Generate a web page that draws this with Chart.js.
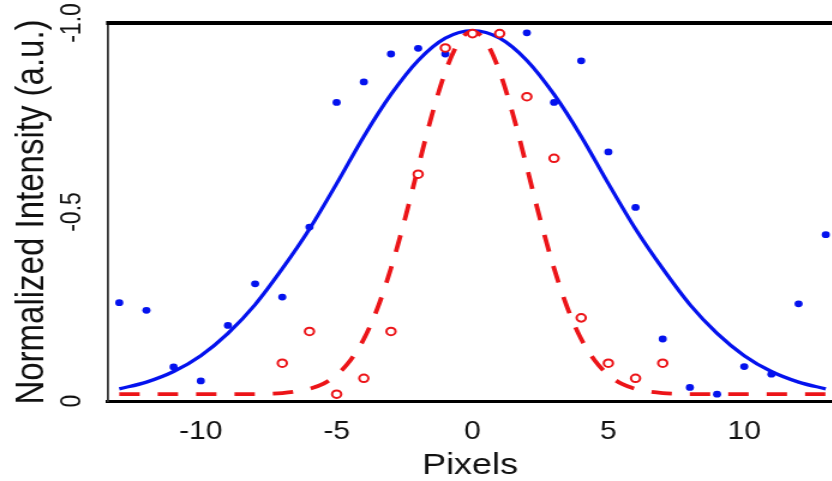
<!DOCTYPE html>
<html>
<head>
<meta charset="utf-8">
<script src="https://cdn.jsdelivr.net/npm/chart.js@4.4.1/dist/chart.umd.min.js"></script>
<style>
    html, body { margin: 0; padding: 0; background: #fff; overflow: hidden; }
    /* the source picture is stretched horizontally, so draw narrow and widen */
    #wrap { width: 700px; height: 481px; transform: scaleX(1.2); transform-origin: 0 0; }
</style>
</head>
<body>
<div id="wrap">
    <canvas id="profileChart" width="700" height="481"></canvas>
</div>
<script>
// 축 눈금
const xTicks = [-10, -5, 0, 5, 10];
const yTicks = [0, 0.5, 1.0];
const yTickLabels = ['0', '-0.5', '-1.0'];

// 파란 점 (측정값)
const blueX = [-13, -12, -11, -10, -9, -8, -7, -6, -5, -4, -3, -2, -1, 2, 3, 4, 5, 6, 7, 8, 9, 10, 11, 12, 13];
const blueY = [0.26, 0.24, 0.09, 0.053, 0.20, 0.31, 0.275, 0.46, 0.79, 0.844, 0.918, 0.933, 0.918, 0.974, 0.79, 0.90, 0.659, 0.512, 0.164, 0.036, 0.018, 0.091, 0.071, 0.257, 0.44];

// 빨간 원 (측정값)
const redX = [-7, -6, -5, -4, -3, -2, -1, 0, 1, 2, 3, 4, 5, 6, 7];
const redY = [0.10, 0.184, 0.018, 0.06, 0.184, 0.60, 0.934, 0.972, 0.972, 0.805, 0.642, 0.22, 0.10, 0.06, 0.10];

// 파란 실선 (피팅 곡선)
const blueFitX = [-13, -12, -11, -10, -9, -8, -7, -6, -5, -4, -3, -2, -1, 0, 1, 2, 3, 4, 5, 6, 7, 8, 9, 10, 11, 12, 13];
const blueFitY = [0.032, 0.050, 0.078, 0.120, 0.179, 0.255, 0.350, 0.455, 0.575, 0.700, 0.811, 0.901, 0.960, 0.980, 0.960, 0.901, 0.811, 0.700, 0.575, 0.455, 0.350, 0.255, 0.179, 0.120, 0.078, 0.050, 0.032];

// 빨간 점선 (피팅 곡선)
const redFitX = [-13, -12, -11, -10, -9, -8, -7.5, -7, -6.5, -6, -5.5, -5, -4.5, -4, -3.5, -3, -2.5, -2, -1.5, -1, -0.5, 0,
                 0.5, 1, 1.5, 2, 2.5, 3, 3.5, 4, 4.5, 5, 5.5, 6, 6.5, 7, 7.5, 8, 9, 10, 11, 12, 13];
const redFitY = [0.018, 0.018, 0.018, 0.018, 0.018, 0.018, 0.019, 0.021, 0.025, 0.032, 0.045, 0.069, 0.107, 0.164, 0.245, 0.351, 0.478, 0.618, 0.755, 0.871, 0.950, 0.978,
                 0.950, 0.871, 0.755, 0.618, 0.478, 0.351, 0.245, 0.164, 0.107, 0.069, 0.045, 0.032, 0.025, 0.021, 0.019, 0.018, 0.018, 0.018, 0.018, 0.018, 0.018];

const BLUE = '#0412ee';
const RED = '#ec1418';
const FONT = 'Liberation Sans, Arial, sans-serif';

function toPoints(xs, ys) {
    return xs.map((x, i) => ({ x: x, y: ys[i] }));
}

// 위쪽 테두리
const topBorder = {
    id: 'topBorder',
    afterDraw(chart) {
        const { ctx, chartArea } = chart;
        ctx.save();
        ctx.strokeStyle = '#000';
        ctx.lineWidth = 4;
        ctx.beginPath();
        ctx.moveTo(chartArea.left - 1, chartArea.top);
        ctx.lineTo(chart.width, chartArea.top);
        ctx.stroke();
        ctx.restore();
    }
};

const ctx = document.getElementById('profileChart').getContext('2d');

new Chart(ctx, {
    type: 'scatter',
    data: {
        datasets: [
            {
                label: 'red data',
                data: toPoints(redX, redY),
                pointRadius: 3.8,
                pointBorderWidth: 2,
                pointBorderColor: RED,
                pointBackgroundColor: '#fff',
                showLine: false,
                order: 1
            },
            {
                label: 'blue data',
                data: toPoints(blueX, blueY),
                pointRadius: 3.4,
                pointBorderWidth: 0,
                pointBackgroundColor: BLUE,
                showLine: false,
                order: 2
            },
            {
                label: 'red fit',
                data: toPoints(redFitX, redFitY),
                showLine: true,
                borderColor: RED,
                borderWidth: 3.8,
                borderDash: [17, 15],
                cubicInterpolationMode: 'monotone',
                pointRadius: 0,
                order: 3
            },
            {
                label: 'blue fit',
                data: toPoints(blueFitX, blueFitY),
                showLine: true,
                borderColor: BLUE,
                borderWidth: 3.3,
                cubicInterpolationMode: 'monotone',
                pointRadius: 0,
                order: 4
            }
        ]
    },
    options: {
        responsive: false,
        animation: false,
        layout: {
            padding: { top: 23, left: 0, right: 0, bottom: 0 }
        },
        plugins: {
            legend: { display: false },
            tooltip: { enabled: false }
        },
        scales: {
            x: {
                type: 'linear',
                min: -13.44,
                max: 13.26,
                afterBuildTicks: function(scale) {
                    scale.ticks = xTicks.map(v => ({ value: v }));
                },
                afterFit: function(scale) {
                    scale.height = 80;
                },
                grid: { display: false, drawTicks: false },
                border: { display: true, color: '#000', width: 3 },
                ticks: {
                    color: '#111',
                    padding: 16,
                    font: { family: FONT, size: 25 }
                },
                title: {
                    display: true,
                    text: 'Pixels',
                    color: '#111',
                    padding: { top: 0, bottom: 0 },
                    font: { family: FONT, size: 30, lineHeight: 1 }
                }
            },
            y: {
                type: 'linear',
                min: 0,
                max: 1,
                afterBuildTicks: function(scale) {
                    scale.ticks = yTicks.map(v => ({ value: v }));
                },
                afterFit: function(scale) {
                    scale.width = 89.4;
                },
                grid: { display: false, drawTicks: false },
                border: { display: true, color: '#333', width: 1.8 },
                ticks: {
                    color: '#111',
                    padding: 9,
                    minRotation: 90,
                    maxRotation: 90,
                    crossAlign: 'center',
                    font: { family: FONT, size: 23 },
                    callback: function(value, index) {
                        return yTickLabels[index];
                    }
                },
                title: {
                    display: true,
                    text: 'Normalized Intensity (a.u.)',
                    color: '#111',
                    padding: { top: 7.5, bottom: 0 },
                    font: { family: FONT, size: 33 }
                }
            }
        }
    },
    plugins: [topBorder]
});
</script>
</body>
</html>
